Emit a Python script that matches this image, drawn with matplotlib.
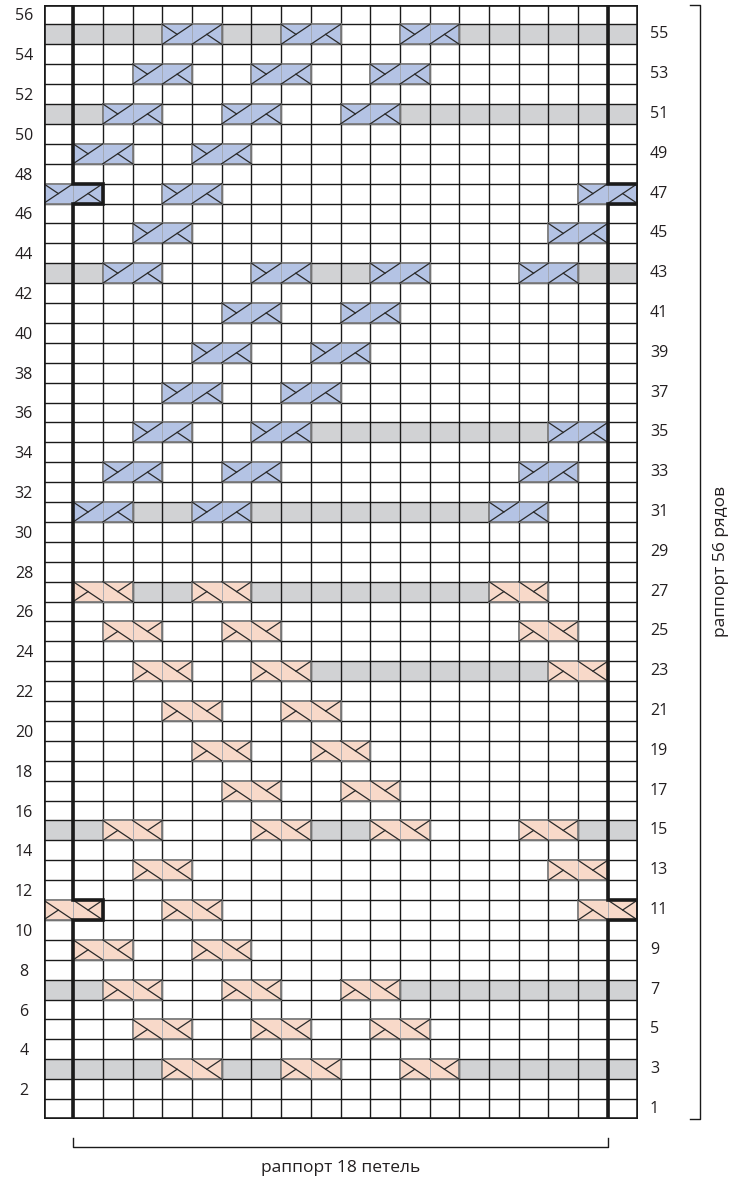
import matplotlib.pyplot as plt
from matplotlib.patches import Rectangle

plt.rcParams['font.family'] = ['Open Sans', 'DejaVu Sans']

N_COLS = 20
N_ROWS = 56

# row -> first column (0-based) of each 2-stitch cable
blue_cables = {
    55: [4, 8, 12], 53: [3, 7, 11], 51: [2, 6, 10], 49: [1, 5],
    47: [0, 4, 18], 45: [3, 17], 43: [2, 7, 11, 16], 41: [6, 10],
    39: [5, 9], 37: [4, 8], 35: [3, 7, 17], 33: [2, 6, 16], 31: [1, 5, 15],
}
pink_cables = {
    27: [1, 5, 15], 25: [2, 6, 16], 23: [3, 7, 17], 21: [4, 8],
    19: [5, 9], 17: [6, 10], 15: [2, 7, 11, 16], 13: [3, 17],
    11: [0, 4, 18], 9: [1, 5], 7: [2, 6, 10], 5: [3, 7, 11], 3: [4, 8, 12],
}
# row -> (first col, last col) runs of grey cells
gray_runs = {
    55: [(0, 3), (6, 7), (14, 19)], 51: [(0, 1), (12, 19)],
    43: [(0, 1), (9, 10), (18, 19)], 35: [(9, 16)],
    31: [(3, 4), (7, 14)], 27: [(3, 4), (7, 14)], 23: [(9, 16)],
    15: [(0, 1), (9, 10), (18, 19)], 7: [(0, 1), (12, 19)],
    3: [(0, 3), (6, 7), (14, 19)],
}
shift_rows = [47, 11]
left_labels = list(range(2, N_ROWS + 1, 2))
right_labels = list(range(1, N_ROWS, 2))
rows_text = "раппорт 56 рядов"
cols_text = "раппорт 18 петель"

GRAY = "#d1d2d4"
BLUE = "#b4c3e4"
PINK = "#f8d9c9"
INK = "#1a1a1a"
TXT = "#231f20"

fig = plt.figure(figsize=(7.37, 11.81), dpi=100)
ax = fig.add_axes([43.5 / 737, 62 / 1181, 594 / 737, 1114.5 / 1181])
ax.set_xlim(0, N_COLS)
ax.set_ylim(0, N_ROWS)
ax.axis("off")

# grey rows
for r, runs in gray_runs.items():
    for a, b in runs:
        ax.add_patch(Rectangle((a, r - 1), b - a + 1, 1, facecolor=GRAY,
                               edgecolor="none", zorder=1))

# grid
ax.hlines(range(N_ROWS + 1), 0, N_COLS, color=INK, lw=1.0, zorder=2)
ax.vlines(range(N_COLS + 1), 0, N_ROWS, color=INK, lw=1.0, zorder=2)


def cable(c, r, face, lean):
    y0, y1 = r - 1, r
    ax.add_patch(Rectangle((c, y0), 2, 1, facecolor=face, edgecolor="#7d7d7d",
                           lw=1.3, zorder=3))
    ax.plot([c + 1, c + 1], [y0, y1], color="#a0a4ac", lw=0.6, zorder=4)
    kw = dict(color="#2a2a2a", lw=0.9, zorder=5)
    for k in (0, 1):
        x0 = c + k
        if lean == "left":
            ax.plot([x0, x0 + 1], [y0, y1], **kw)
            if k == 0:
                ax.plot([x0, x0 + 0.5], [y1, y0 + 0.5], **kw)
            else:
                ax.plot([x0 + 0.5, x0 + 1], [y0 + 0.5, y0], **kw)
        else:
            ax.plot([x0, x0 + 1], [y1, y0], **kw)
            if k == 0:
                ax.plot([x0, x0 + 0.5], [y0, y0 + 0.5], **kw)
            else:
                ax.plot([x0 + 0.5, x0 + 1], [y0 + 0.5, y1], **kw)


for r, cols in blue_cables.items():
    for c in cols:
        cable(c, r, BLUE, "left")
for r, cols in pink_cables.items():
    for c in cols:
        cable(c, r, PINK, "right")

# repeat boundaries
for edge, step in ((1, 1), (N_COLS - 1, 1)):
    xs, ys = [edge], [N_ROWS]
    for r in sorted(shift_rows, reverse=True):
        xs += [edge, edge + step, edge + step, edge]
        ys += [r, r, r - 1, r - 1]
    xs.append(edge)
    ys.append(0)
    ax.plot(xs, ys, color=INK, lw=2.6, zorder=6, solid_joinstyle="miter")
ax.add_patch(Rectangle((0, 0), N_COLS, N_ROWS, facecolor="none",
                       edgecolor=INK, lw=2.6, zorder=6, joinstyle="miter"))

# row numbers
for r in left_labels:
    ax.text(-0.66, r - 0.6, str(r), ha="center", va="center", fontsize=11.5,
            color=TXT)
for r in right_labels:
    ax.text(20.42, r - 0.5, str(r), ha="left", va="center", fontsize=11.5,
            color=TXT)

# brackets
ax.plot([21.77, 22.1, 22.1, 21.77], [N_ROWS, N_ROWS, 0, 0], color=INK,
        lw=1.0, clip_on=False)
ax.text(22.8, 28, rows_text, rotation=90, ha="center", va="center",
        fontsize=12.5, color=TXT)
ax.plot([1, 1, N_COLS - 1, N_COLS - 1], [-0.95, -1.41, -1.41, -0.95],
        color=INK, lw=1.0, clip_on=False)
ax.text(N_COLS / 2, -2.46, cols_text, ha="center", va="center",
        fontsize=12.5, color=TXT)

fig.savefig("out.png", dpi=100)
